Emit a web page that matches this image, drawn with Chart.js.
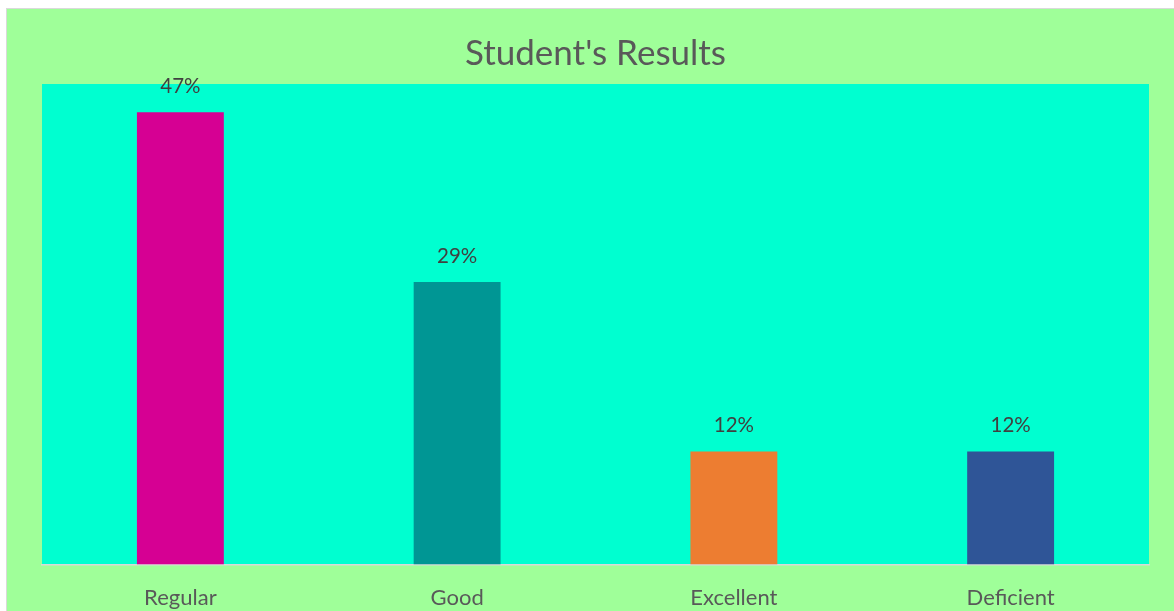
<!DOCTYPE html>
<html>
<head>
<meta charset="utf-8">
<script src="https://cdn.jsdelivr.net/npm/chart.js@4/dist/chart.umd.min.js"></script>
<style>
    html, body { margin: 0; padding: 0; background: #ffffff; overflow: hidden; }
    #frame {
        position: absolute; left: 6px; top: 8px;
        width: 1168px; height: 640px;
        border-left: 1px solid #d9d9d9; border-top: 1px solid #d9d9d9;
        background: #9fff99;
    }
    #chart { display: block; }
</style>
</head>
<body>
<div id="frame"><canvas id="chart" width="1167" height="625"></canvas></div>
<script>
// Daten
const categories = ['Regular', 'Good', 'Excellent', 'Deficient'];
const shares = [0.4706, 0.2941, 0.1176, 0.1176];
const barLabels = ['47%', '29%', '12%', '12%'];
const barColors = ['#d60093', '#009694', '#ed7d31', '#2f5597'];

const FONT = 'Lato, "Open Sans", sans-serif';

// Hintergrund der Zeichenfläche
const plotBackground = {
    id: 'plotBackground',
    beforeDraw(chart) {
        const { ctx, chartArea } = chart;
        ctx.save();
        ctx.fillStyle = '#00ffd0';
        ctx.fillRect(chartArea.left, chartArea.top, chartArea.right - chartArea.left, chartArea.bottom - chartArea.top);
        ctx.restore();
    }
};

// Werte über den Balken
const valueLabels = {
    id: 'valueLabels',
    afterDatasetsDraw(chart) {
        const { ctx } = chart;
        const meta = chart.getDatasetMeta(0);
        ctx.save();
        ctx.fillStyle = '#404040';
        ctx.font = '20.5px ' + FONT;
        ctx.textAlign = 'center';
        ctx.textBaseline = 'middle';
        meta.data.forEach((bar, i) => {
            ctx.fillText(barLabels[i], bar.x, bar.y - 26);
        });
        ctx.restore();
    }
};

new Chart(document.getElementById('chart'), {
    type: 'bar',
    data: {
        labels: categories,
        datasets: [{
            data: shares,
            backgroundColor: barColors,
            barPercentage: 0.314,
            categoryPercentage: 1.0
        }]
    },
    options: {
        responsive: false,
        animation: false,
        layout: { padding: { left: 35, right: 25, top: 0, bottom: 3 } },
        scales: {
            x: {
                grid: { display: false, drawTicks: false },
                border: { display: true, color: '#d9d9d9', width: 1.5 },
                ticks: { color: '#595959', font: { size: 22, family: FONT }, padding: 20 }
            },
            y: { display: false, min: 0, max: 0.5 }
        },
        plugins: {
            legend: { display: false },
            tooltip: { enabled: false },
            title: {
                display: true,
                text: "Student's Results",
                color: '#595959',
                font: { size: 35, family: FONT, weight: 'normal' },
                padding: { top: 24, bottom: 9 }
            }
        }
    },
    plugins: [plotBackground, valueLabels]
});
</script>
</body>
</html>
